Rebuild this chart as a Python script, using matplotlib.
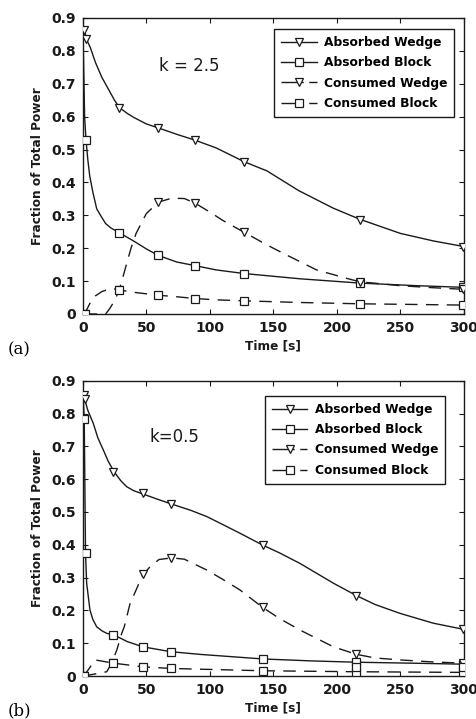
import matplotlib
matplotlib.use("Agg")
import matplotlib.pyplot as plt

# ---------------- data: panel (a), k = 2.5 ----------------
a_aw_t = [0, 1.5, 3, 6, 10, 15, 20, 25, 29, 35, 40, 50, 60, 75, 88, 105, 127, 145, 170, 197, 218, 250, 276, 300]
a_aw_v = [0.87, 0.86, 0.835, 0.81, 0.765, 0.72, 0.685, 0.65, 0.627, 0.61, 0.598, 0.578, 0.565, 0.545, 0.529, 0.505, 0.463, 0.435, 0.375, 0.322, 0.288, 0.245, 0.222, 0.205]
a_aw_mt = [1.3, 2.6, 28.8, 59.5, 88.4, 127.2, 218, 299]
a_aw_mv = [0.863, 0.836, 0.625, 0.565, 0.529, 0.463, 0.286, 0.205]

a_ab_t = [0, 0.5, 1, 1.5, 2.6, 4, 5.5, 8, 11, 14, 18, 22, 28.8, 40, 50, 59.5, 74, 88.4, 105, 127, 171, 218, 263, 300]
a_ab_v = [0.87, 0.8, 0.7, 0.6, 0.529, 0.47, 0.42, 0.37, 0.32, 0.3, 0.275, 0.262, 0.247, 0.222, 0.198, 0.178, 0.158, 0.147, 0.134, 0.123, 0.107, 0.094, 0.086, 0.081]
a_ab_mt = [2.6, 28.8, 59.5, 88.4, 127.2, 218, 299]
a_ab_mv = [0.529, 0.247, 0.178, 0.147, 0.123, 0.094, 0.081]

a_cw_t = [1.5, 18, 21, 25, 28.8, 34, 38, 42, 50, 59.5, 70, 80, 88.4, 100, 110, 127.2, 145, 158, 184, 208, 218, 250, 275, 300]
a_cw_v = [0, 0, 0.015, 0.04, 0.073, 0.145, 0.2, 0.245, 0.305, 0.34, 0.352, 0.351, 0.337, 0.31, 0.285, 0.248, 0.21, 0.184, 0.134, 0.108, 0.098, 0.086, 0.08, 0.075]
a_cw_mt = [1.5, 28.8, 59.5, 88.4, 127.2, 218, 299]
a_cw_mv = [0, 0.073, 0.340, 0.337, 0.248, 0.098, 0.075]

a_cb_t = [1.5, 6, 10, 15, 20, 24, 28.8, 40, 59.5, 75, 88.4, 105, 127.2, 170, 218, 260, 300]
a_cb_v = [0, 0.035, 0.055, 0.068, 0.075, 0.077, 0.073, 0.066, 0.057, 0.052, 0.047, 0.043, 0.04, 0.035, 0.031, 0.029, 0.027]
a_cb_mt = [1.5, 28.8, 59.5, 88.4, 127.2, 218, 299]
a_cb_mv = [0, 0.073, 0.057, 0.047, 0.04, 0.031, 0.027]

# ---------------- data: panel (b), k = 0.5 ----------------
b_aw_t = [0, 1, 1.8, 4, 8.3, 12, 16.2, 20, 24.6, 30, 34.6, 40, 47.2, 58, 70, 85, 97.6, 110, 123.8, 141.6, 155, 171, 197.2, 215.4, 230, 249.6, 275.8, 300]
b_aw_v = [0.87, 0.855, 0.84, 0.81, 0.77, 0.725, 0.689, 0.655, 0.623, 0.595, 0.577, 0.565, 0.555, 0.54, 0.524, 0.505, 0.486, 0.462, 0.435, 0.399, 0.375, 0.343, 0.283, 0.245, 0.218, 0.191, 0.161, 0.142]
b_aw_mt = [1, 1.8, 24.1, 47.2, 69.5, 141.6, 215.4, 299]
b_aw_mv = [0.856, 0.843, 0.623, 0.557, 0.524, 0.399, 0.245, 0.142]

b_ab_t = [0, 0.6, 1.2, 2.2, 3.1, 5.7, 8, 11, 15, 18.9, 24.6, 35, 47.2, 69.5, 92, 141.6, 180, 215.4, 260, 300]
b_ab_v = [0.87, 0.83, 0.782, 0.376, 0.283, 0.201, 0.172, 0.15, 0.138, 0.13, 0.125, 0.105, 0.089, 0.074, 0.066, 0.052, 0.046, 0.042, 0.039, 0.036]
b_ab_mt = [1.2, 2.2, 24.1, 47.2, 69.5, 141.6, 215.4, 299]
b_ab_mv = [0.782, 0.376, 0.125, 0.089, 0.074, 0.052, 0.042, 0.036]

b_cw_t = [1, 18.9, 22.8, 26.8, 30.7, 32.7, 37.2, 47.2, 53, 60, 70, 80, 97.6, 110, 123.8, 141.6, 155, 171, 197.2, 215.4, 230, 249.6, 275, 300]
b_cw_v = [0, 0.013, 0.039, 0.079, 0.13, 0.15, 0.22, 0.308, 0.333, 0.355, 0.36, 0.356, 0.323, 0.295, 0.262, 0.209, 0.175, 0.14, 0.089, 0.066, 0.055, 0.049, 0.043, 0.039]
b_cw_mt = [1, 24.1, 47.2, 69.5, 141.6, 215.4, 299]
b_cw_mv = [0, 0.039, 0.31, 0.361, 0.209, 0.066, 0.039]

b_cb_t = [1, 9.7, 24.6, 47.2, 69.5, 141.6, 215.4, 299]
b_cb_v = [0, 0.049, 0.039, 0.028, 0.023, 0.016, 0.013, 0.011]
b_cb_mt = [1, 24.1, 47.2, 69.5, 141.6, 215.4, 215.4, 299, 299]
b_cb_mv = [0, 0.039, 0.028, 0.023, 0.016, 0.013, 0.028, 0.011, 0.026]

series_labels = ["Absorbed Wedge", "Absorbed Block", "Consumed Wedge", "Consumed Block"]
x_ticks = [0, 50, 100, 150, 200, 250, 300]
y_ticks = [0, 0.1, 0.2, 0.3, 0.4, 0.5, 0.6, 0.7, 0.8, 0.9]
y_tick_labels = ["0", "0.1", "0.2", "0.3", "0.4", "0.5", "0.6", "0.7", "0.8", "0.9"]
x_label = "Time [s]"
y_label = "Fraction of Total Power"

panels = [
    dict(rect=[0.1734, 0.5633, 0.7993, 0.4117], k="k = 2.5", kpos=(83.6, 0.754), tag="(a)", tagy=0.513,
         leg=(0.974, 0.962),
         series=[(a_aw_t, a_aw_v, a_aw_mt, a_aw_mv), (a_ab_t, a_ab_v, a_ab_mt, a_ab_mv),
                 (a_cw_t, a_cw_v, a_cw_mt, a_cw_mv), (a_cb_t, a_cb_v, a_cb_mt, a_cb_mv)]),
    dict(rect=[0.1734, 0.0598, 0.7993, 0.4107], k="k=0.5", kpos=(71.8, 0.727), tag="(b)", tagy=0.011,
         leg=(0.950, 0.948),
         series=[(b_aw_t, b_aw_v, b_aw_mt, b_aw_mv), (b_ab_t, b_ab_v, b_ab_mt, b_ab_mv),
                 (b_cw_t, b_cw_v, b_cw_mt, b_cw_mv), (b_cb_t, b_cb_v, b_cb_mt, b_cb_mv)]),
]

markers = ["v", "s", "v", "s"]
styles = ["-", "-", (0, (9, 6)), (0, (9, 6))]
col = "#1a1a1a"

fig = plt.figure(figsize=(4.77, 7.19), dpi=100)
for p in panels:
    ax = fig.add_axes(p["rect"])
    handles = []
    for (lt, lv, mt, mv), mk, ls, lab in zip(p["series"], markers, styles, series_labels):
        ax.plot(lt, lv, color=col, lw=1.0, linestyle=ls, zorder=2)
        ax.plot(mt, mv, linestyle="none", marker=mk, ms=6 if mk == "v" else 5.5,
                mfc="white", mec=col, mew=0.9, zorder=3)
        h, = ax.plot([], [], color=col, lw=1.0, linestyle="-" if ls == "-" else (0, (16, 4, 6, 4)), marker=mk,
                     ms=6 if mk == "v" else 5.5, mfc="white", mec=col, mew=0.9, label=lab)
        handles.append(h)
    ax.set_xlim(0, 300)
    ax.set_ylim(0, 0.9)
    ax.set_xticks(x_ticks)
    ax.set_xticklabels([str(v) for v in x_ticks])
    ax.set_yticks(y_ticks)
    ax.set_yticklabels(y_tick_labels)
    ax.tick_params(direction="in", top=True, right=True, length=3.5, width=0.8,
                   labelsize=10, pad=5, colors=col)
    for lbl in ax.get_xticklabels() + ax.get_yticklabels():
        lbl.set_fontweight("bold")
    for s in ax.spines.values():
        s.set_linewidth(1.0)
        s.set_color(col)
    ax.set_xlabel(x_label, fontsize=8.7, fontweight="bold", labelpad=3, color=col)
    ax.set_ylabel(y_label, fontsize=8.7, fontweight="bold", labelpad=5, color=col)
    ax.text(p["kpos"][0], p["kpos"][1], p["k"], fontsize=12, ha="center", va="center", color=col)
    leg = ax.legend(handles=handles, loc="upper right", bbox_to_anchor=p["leg"], borderaxespad=0,
                    fancybox=False, edgecolor=col, framealpha=1, handlelength=2.9,
                    prop=dict(size=8.8, weight="bold"), labelspacing=0.6, borderpad=0.55,
                    handletextpad=0.6)
    leg.get_frame().set_linewidth(1.0)
    fig.text(0.015, p["tagy"], p["tag"], family="DejaVu Serif", fontsize=12, va="center", ha="left")

fig.savefig("out.png", dpi=100)
